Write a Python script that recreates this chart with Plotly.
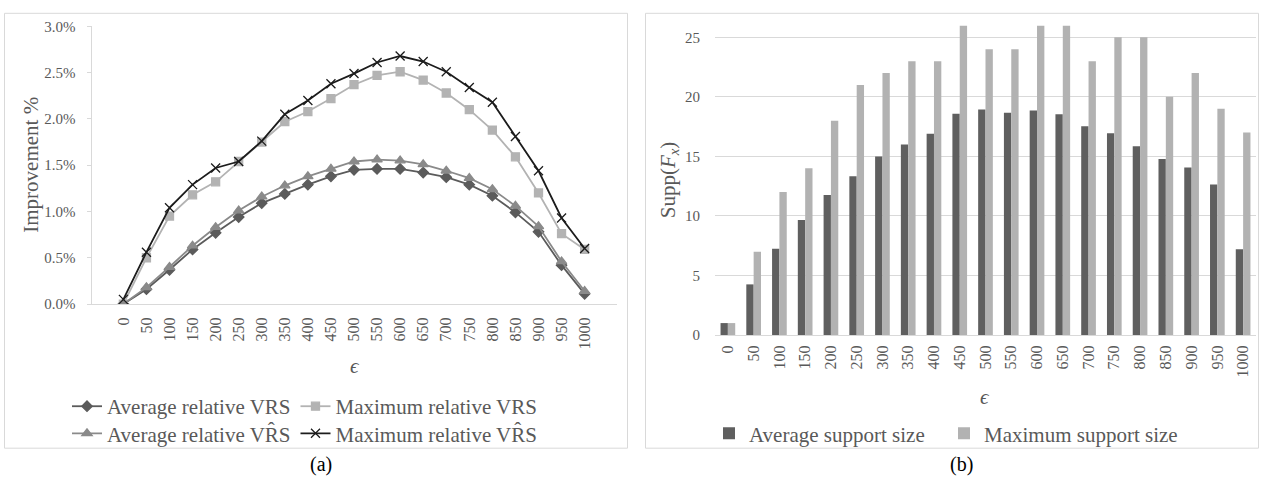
import plotly.graph_objects as go

W, H = 1261, 491

eps = ["0", "50", "100", "150", "200", "250", "300", "350", "400", "450", "500",
       "550", "600", "650", "700", "750", "800", "850", "900", "950", "1000"]

avg_vrs = [0.00, 0.16, 0.37, 0.59, 0.77, 0.94, 1.09, 1.19, 1.29, 1.38, 1.45,
           1.46, 1.46, 1.42, 1.37, 1.29, 1.17, 0.99, 0.78, 0.42, 0.11]
max_vrs = [0.00, 0.50, 0.95, 1.18, 1.32, 1.54, 1.75, 1.97, 2.08, 2.22, 2.37,
           2.47, 2.51, 2.42, 2.28, 2.10, 1.88, 1.59, 1.20, 0.76, 0.59]
avg_vrs_hat = [0.00, 0.18, 0.40, 0.63, 0.83, 1.01, 1.16, 1.28, 1.38, 1.46, 1.54,
               1.56, 1.55, 1.51, 1.44, 1.36, 1.24, 1.06, 0.84, 0.46, 0.14]
max_vrs_hat = [0.05, 0.56, 1.04, 1.29, 1.47, 1.54, 1.76, 2.05, 2.20, 2.38, 2.49,
               2.61, 2.68, 2.62, 2.51, 2.34, 2.18, 1.81, 1.44, 0.93, 0.60]

avg_support = [1.0, 4.25, 7.25, 9.66, 11.75, 13.34, 15.0, 16.0, 16.91, 18.59, 18.94,
               18.67, 18.86, 18.54, 17.54, 16.94, 15.86, 14.78, 14.07, 12.64, 7.2]
max_support = [1, 7, 12, 14, 18, 21, 22, 23, 23, 26, 24,
               24, 26, 26, 23, 25, 25, 20, 22, 19, 17]

FONT = "Liberation Serif, Times New Roman, serif"
TXT = "#595959"
GRID = "#d9d9d9"


def px(x):
    return x / W


def py(y):
    return 1 - y / H


fig = go.Figure()

line_specs = [
    ("Average relative VRS", avg_vrs, "#5b5b5b", "diamond", 8, "legend"),
    ("Maximum relative VRS", max_vrs, "#b3b3b3", "square", 8, "legend"),
    ("Average relative VR\u0302S", avg_vrs_hat, "#8a8a8a", "triangle-up", 9, "legend2"),
    ("Maximum relative VR\u0302S", max_vrs_hat, "#1c1c1c", "x-thin", 9, "legend2"),
]
for name, vals, col, sym, sz, leg in line_specs:
    fig.add_trace(go.Scatter(
        x=eps, y=vals, name=name, mode="lines+markers",
        line=dict(color=col, width=1.8),
        marker=dict(symbol=sym, size=sz, color=col,
                    line=dict(color=col, width=1.3)),
        xaxis="x", yaxis="y", legend=leg,
    ))

fig.add_trace(go.Bar(x=eps, y=avg_support, name="Average support size",
                     marker=dict(color="#5f5f5f", line=dict(width=0)),
                     xaxis="x2", yaxis="y2", legend="legend3"))
fig.add_trace(go.Bar(x=eps, y=max_support, name="Maximum support size",
                     marker=dict(color="#b2b2b2", line=dict(width=0)),
                     xaxis="x2", yaxis="y2", legend="legend3"))

tickfont_y = dict(family=FONT, size=15, color=TXT)
tickfont_x = dict(family=FONT, size=16, color=TXT)

legend_common = dict(orientation="h", font=dict(family=FONT, size=21, color=TXT),
                     bgcolor="rgba(0,0,0,0)", borderwidth=0,
                     xanchor="left", yanchor="middle", tracegroupgap=0)

fig.update_layout(
    width=W, height=H,
    margin=dict(l=0, r=0, t=0, b=0),
    paper_bgcolor="white", plot_bgcolor="white",
    barmode="group", bargap=0.43, bargroupgap=0,
    font=dict(family=FONT, color=TXT),
    xaxis=dict(domain=[px(91.5), px(616.5)], type="category", anchor="y",
               showline=True, linecolor=GRID, linewidth=1, showgrid=False,
               ticks="", tickangle=-90, tickfont=tickfont_x, ticklabelstandoff=6),
    yaxis=dict(domain=[py(306), py(19)], anchor="x", range=[0, 3.0], dtick=0.5,
               tickformat=".1f", ticksuffix="%", showgrid=False, zeroline=False,
               showline=True, linecolor=GRID, linewidth=1,
               ticks="outside", ticklen=4, tickcolor=GRID,
               tickfont=tickfont_y, ticklabelstandoff=8),
    xaxis2=dict(domain=[px(715), px(1256)], type="category", anchor="y2",
                showline=True, linecolor=GRID, linewidth=1, showgrid=False,
                ticks="", tickangle=-90, tickfont=tickfont_x, ticklabelstandoff=3),
    yaxis2=dict(domain=[py(338), py(18)], anchor="x2", range=[0, 26], dtick=5,
                showgrid=True, gridcolor=GRID, gridwidth=1, zeroline=False,
                showline=False, ticks="", tickfont=tickfont_y, ticklabelstandoff=14),
    legend=dict(x=px(67), y=py(412), **legend_common),
    legend2=dict(x=px(67), y=py(440), **legend_common),
    legend3=dict(x=px(709), y=py(440), entrywidth=190, **legend_common),
    shapes=[
        dict(type="rect", xref="paper", yref="paper",
             x0=px(4.5), x1=px(627.5), y0=py(455), y1=py(5.5),
             line=dict(color=GRID, width=1)),
        dict(type="rect", xref="paper", yref="paper",
             x0=px(645.5), x1=px(1258.5), y0=py(455), y1=py(5.5),
             line=dict(color=GRID, width=1)),
    ],
    annotations=[
        dict(text="Improvement %", x=px(31), y=py(162), xref="paper", yref="paper",
             xanchor="center", yanchor="middle", textangle=-90, showarrow=False,
             font=dict(family=FONT, size=21, color=TXT)),
        dict(text="Supp(<i>F</i><sub><i>x</i></sub>)", x=px(669), y=py(178),
             xref="paper", yref="paper", xanchor="center", yanchor="middle",
             textangle=-90, showarrow=False,
             font=dict(family=FONT, size=21, color=TXT)),
        dict(text="<i>\u03f5</i>", x=px(355), y=py(370), xref="paper", yref="paper",
             xanchor="center", yanchor="middle", showarrow=False,
             font=dict(family=FONT, size=21, color=TXT)),
        dict(text="<i>\u03f5</i>", x=px(985), y=py(402), xref="paper", yref="paper",
             xanchor="center", yanchor="middle", showarrow=False,
             font=dict(family=FONT, size=21, color=TXT)),
        dict(text="(a)", x=px(321), y=py(472), xref="paper", yref="paper",
             xanchor="center", yanchor="middle", showarrow=False,
             font=dict(family=FONT, size=20, color="#000000")),
        dict(text="(b)", x=px(962), y=py(472), xref="paper", yref="paper",
             xanchor="center", yanchor="middle", showarrow=False,
             font=dict(family=FONT, size=20, color="#000000")),
    ],
)

fig.write_html("out.html",
               config={"displayModeBar": False},
               post_script="document.body.style.margin='0';document.body.style.overflow='hidden';")
